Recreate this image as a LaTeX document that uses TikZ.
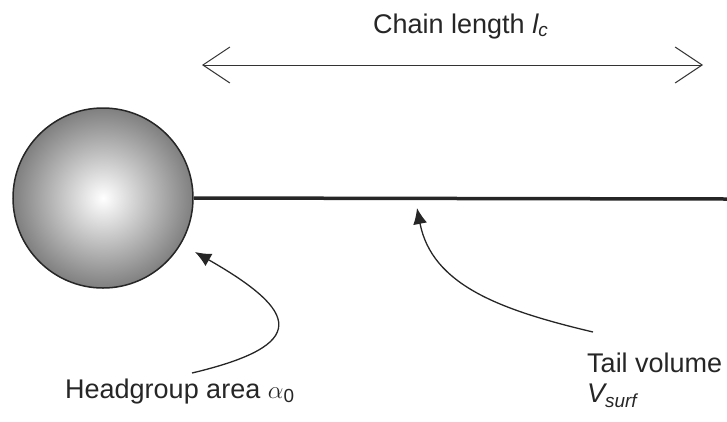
\documentclass[tikz,border=0pt]{standalone}
\usepackage{fontspec}
\setmainfont{Liberation Sans}
\usetikzlibrary{arrows.meta,shadings}
\tikzset{
  lbl/.style={inner sep=0pt, anchor=base west, text=black!85, font=\fontsize{27}{32}\selectfont},
  ptr/.style={line width=1.3pt, draw=black!85, -{Latex[length=16pt,width=14pt]}},
  span/.style={line width=1pt, draw=black!80, {Straight Barb[length=27pt,width=36pt,line width=1pt]}-{Straight Barb[length=27pt,width=36pt,line width=1pt]}}
}
\begin{document}
\begin{tikzpicture}[x=1pt,y=-1pt]
\useasboundingbox (0,0) rectangle (727,421);
% head group
\node[circle, minimum size=180pt, inner sep=0pt, draw=black!85, line width=1.5pt,
      inner color=white, outer color=black!50] (head) at (103,198) {};
% tail
\coordinate (tailend) at (727,199);
\draw[line width=3.5pt, black!85] (head.east) -- (tailend);
% chain length
\coordinate (cl) at (202,65);
\coordinate (cr) at (703,65);
\draw[span] (cl) -- (cr);
\node[lbl] (chain) at (373,33) {Chain length {\itshape l\textsubscript{c}}};
% headgroup label and arrow
\node[lbl] (hg) at (65,398) {Headgroup area $\alpha$\textsubscript{0}};
\coordinate (hs) at (192,373);
\coordinate (ht) at (195,252);
\draw[ptr] (hs) .. controls (310,345) and (300,312) .. (ht);
% tail label and arrow
\node[lbl] (tv) at (587,372) {Tail volume};
\node[lbl] (vs) at (587,402) {\itshape V\textsubscript{surf}};
\coordinate (ts) at (593,332);
\coordinate (tt) at (417,208);
\draw[ptr] (ts) .. controls (500,310) and (432,285) .. (tt);
\end{tikzpicture}
\end{document}
